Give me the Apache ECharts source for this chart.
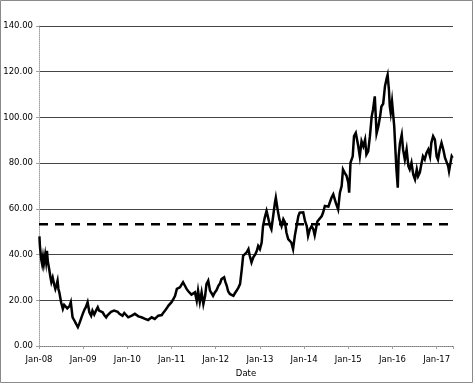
<!DOCTYPE html>
<html>
<head>
<meta charset="utf-8">
<script src="https://cdn.jsdelivr.net/npm/echarts@6/dist/echarts.min.js"></script>
<style>
html,body{margin:0;padding:0;background:#fff;}
#chart{width:473px;height:383px;}
</style>
</head>
<body>
<div id="chart"></div>
<script>
// time as decimal year
const timeYears = [
2008.01,2008.02,2008.05,2008.07,2008.09,2008.11,2008.14,2008.16,2008.18,2008.20,
2008.23,2008.26,2008.28,2008.31,2008.35,2008.37,2008.40,2008.42,2008.44,2008.46,
2008.50,2008.54,2008.57,2008.61,2008.64,2008.69,2008.72,2008.76,2008.80,2008.84,
2008.88,2008.91,2008.95,2008.99,2009.03,2009.06,2009.10,2009.14,2009.18,2009.21,
2009.25,2009.29,2009.33,2009.36,2009.40,2009.44,2009.48,2009.52,2009.55,2009.59,
2009.63,2009.67,2009.70,2009.74,2009.78,2009.82,2009.86,2009.89,2009.93,2009.97,
2010.02,2010.06,2010.10,2010.13,2010.17,2010.21,2010.25,2010.29,2010.32,2010.36,
2010.40,2010.44,2010.47,2010.51,2010.55,2010.59,2010.62,2010.66,2010.70,2010.74,
2010.78,2010.81,2010.85,2010.89,2010.93,2010.96,2011.00,2011.04,2011.08,2011.12,
2011.15,2011.19,2011.23,2011.26,2011.30,2011.34,2011.38,2011.42,2011.45,2011.49,
2011.53,2011.57,2011.60,2011.64,2011.68,2011.72,2011.76,2011.79,2011.83,2011.87,
2011.91,2011.94,2011.98,2012.02,2012.06,2012.10,2012.13,2012.19,2012.22,2012.25,
2012.28,2012.32,2012.36,2012.40,2012.43,2012.47,2012.51,2012.55,2012.59,2012.62,
2012.66,2012.70,2012.74,2012.77,2012.81,2012.85,2012.89,2012.93,2012.96,2013.00,
2013.04,2013.07,2013.11,2013.15,2013.19,2013.23,2013.26,2013.30,2013.34,2013.36,
2013.40,2013.44,2013.49,2013.53,2013.57,2013.60,2013.64,2013.68,2013.71,2013.75,
2013.79,2013.83,2013.87,2013.90,2013.94,2013.98,2014.02,2014.06,2014.09,2014.13,
2014.17,2014.21,2014.24,2014.30,2014.33,2014.40,2014.43,2014.47,2014.51,2014.55,
2014.58,2014.62,2014.66,2014.72,2014.77,2014.81,2014.85,2014.88,2014.92,2014.96,
2015.00,2015.02,2015.05,2015.10,2015.13,2015.17,2015.22,2015.26,2015.30,2015.34,
2015.38,2015.41,2015.45,2015.49,2015.53,2015.56,2015.60,2015.64,2015.68,2015.72,
2015.75,2015.79,2015.83,2015.87,2015.89,2015.92,2015.94,2015.96,2015.99,2016.02,
2016.04,2016.07,2016.09,2016.12,2016.14,2016.17,2016.21,2016.24,2016.28,2016.32,
2016.36,2016.39,2016.43,2016.47,2016.51,2016.55,2016.58,2016.62,2016.66,2016.69,
2016.73,2016.77,2016.81,2016.85,2016.88,2016.92,2016.96,2017.00,2017.03,2017.07,
2017.11,2017.15,2017.19,2017.22,2017.26,2017.28,2017.32,2017.34,2017.36
];
const priceValues = [
48,44,38,36,39,36,40,37,41.7,37,
33.7,30,28,30,26.4,25,27,28.6,25,23.5,
19.2,16.3,18,17.7,16.5,17.5,19.2,12.6,11.2,9.7,
8.3,9.7,11.9,14.1,16,17,19.2,14.8,13.3,15.5,
13.8,15.5,17,15.5,16,14.8,13.5,12.6,13.5,14.1,
15,14.4,15.5,16.3,15,14.1,13.8,13.3,14.5,14.8,
12.6,13,13.3,13.8,14.1,13.5,13,12.8,12.6,12.2,
11.9,11.5,11.4,12,12.6,12.2,11.9,12.5,13.3,13.5,
13.6,14.5,15.5,16.5,17.7,18.5,19.2,20.5,22,25,
24.5,25.7,27,27.9,26.5,25,24,23.5,22.5,22,
23.5,19.9,24.3,19.2,23.5,18.4,22,27.1,28.6,24.3,
23,22,23.5,24.5,26.4,27.5,29.3,30.1,28,26.4,
24,22.8,22.5,22,23,24.2,25.5,27.1,33.7,39.5,
40,41,42.4,39.5,36.6,38.8,40,41.7,43.8,42.4,
45.3,52.5,56.2,59.1,58.6,52.5,51.1,56.9,62.7,64.9,
59.8,55.5,52.5,55.5,54,49.7,46.8,46,45.3,42.4,
48.2,52.5,56.9,58.4,59.1,58.5,54.7,52.5,48.2,51.1,
52.5,51,48.5,54.5,55,56.9,58.4,61.3,61.3,61,
62.7,64.9,66.4,62.5,59.8,67.1,70,77.3,75.8,74.5,
71.5,67.1,80.2,83,91.8,93.2,88.1,83,89.6,87.4,
90.3,83.8,85.2,91.8,100.5,103.4,109.2,93,96.1,100.5,
104.8,106,113.6,117.2,118.6,112.1,104.8,102,107,100.5,
96.1,84.5,77.3,69.3,83,88.9,92.5,86,81.6,86,
78.7,77.3,80.2,75.1,72.9,77.3,74.3,76,80.2,83,
81.6,84.5,86,83,88.9,91.8,90.3,83,81.6,86,
88.9,86,82.3,81.6,78.7,76.5,80.9,83,82.3
];
const referenceLevel = 53.3;
const yTicks = [0, 140, 20];   // min, max, step
const xRange = [2008, 2017.37];
const xAxisName = 'Date';

const seriesData = timeYears.map((t, i) => [t, priceValues[i]]);
const refData = [[xRange[0], referenceLevel], [xRange[1], referenceLevel]];

const chart = echarts.init(document.getElementById('chart'), null, {renderer: 'canvas'});
const labelFont = {fontFamily: 'DejaVu Sans', fontSize: 8.5, color: '#000'};
chart.setOption({
  animation: false,
  backgroundColor: '#ffffff',
  graphic: [{
    type: 'rect',
    shape: {x: 0.5, y: 0.5, width: 472, height: 382},
    style: {fill: 'none', stroke: '#8a8a8a', lineWidth: 1},
    silent: true
  }],
  grid: {left: 39, right: 20, top: 26, bottom: 36, containLabel: false},
  xAxis: {
    type: 'value',
    min: xRange[0], max: xRange[1], interval: 1,
    name: xAxisName, nameLocation: 'middle', nameGap: 21,
    nameTextStyle: Object.assign({}, labelFont),
    axisLine: {show: true, lineStyle: {color: '#a0a0a0', type: 'dotted', width: 1}},
    axisTick: {show: true, length: 3, lineStyle: {color: '#a0a0a0'}},
    axisLabel: Object.assign({
      margin: 9,
      formatter: v => (Math.abs(v - Math.round(v)) < 1e-6) ? 'Jan-' + String(Math.round(v)).slice(2) : ''
    }, labelFont),
    splitLine: {show: false}
  },
  yAxis: {
    type: 'value',
    min: yTicks[0], max: yTicks[1], interval: yTicks[2],
    axisLine: {show: true, lineStyle: {color: '#a0a0a0', type: 'dotted', width: 1}},
    axisTick: {show: true, length: 3, lineStyle: {color: '#a0a0a0'}},
    axisLabel: Object.assign({margin: 6, formatter: v => v.toFixed(2)}, labelFont),
    splitLine: {show: true, lineStyle: {color: '#444', width: 1}}
  },
  series: [
    {
      type: 'line',
      data: refData,
      symbol: 'none',
      lineStyle: {color: '#000', width: 2.5, type: [9, 7]},
      z: 3
    },
    {
      type: 'line',
      data: seriesData,
      symbol: 'none',
      lineStyle: {color: '#000', width: 2.5, join: 'miter'},
      z: 4
    }
  ]
});
</script>
</body>
</html>
